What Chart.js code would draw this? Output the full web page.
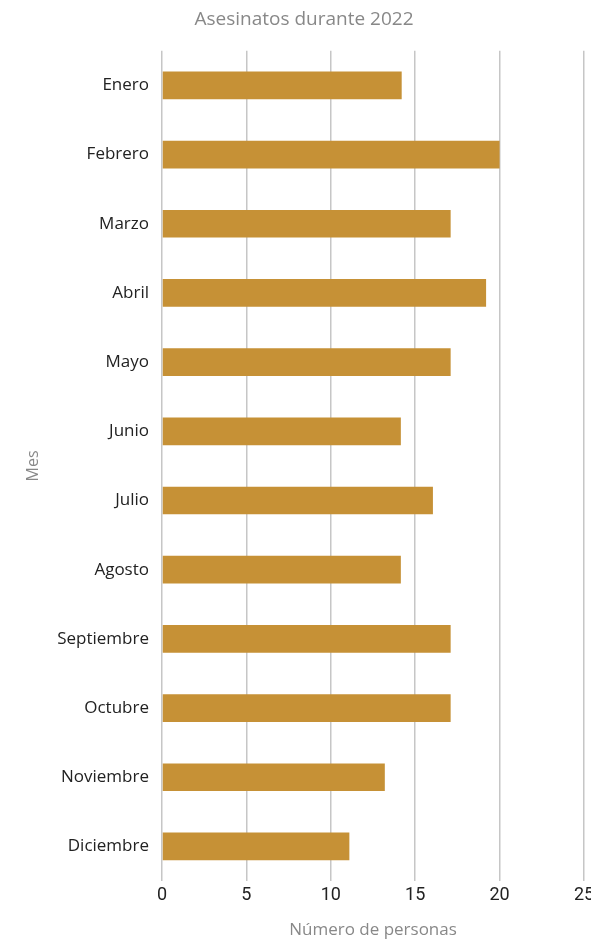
<!DOCTYPE html>
<html>
<head>
<meta charset="utf-8">
<script src="https://cdn.jsdelivr.net/npm/chart.js@4.4.1/dist/chart.umd.min.js"></script>
<style>
  html, body { margin: 0; padding: 0; background: #fff; overflow: hidden; }
  #wrap { position: relative; width: 616px; height: 941px; }
</style>
</head>
<body>
<div id="wrap"><canvas id="grafica"></canvas></div>
<script>
// datos
var meses = ["Enero", "Febrero", "Marzo", "Abril", "Mayo", "Junio", "Julio",
  "Agosto", "Septiembre", "Octubre", "Noviembre", "Diciembre"];
var asesinatos = [14.2, 20, 17.1, 19.2, 17.1, 14.15, 16.05, 14.15, 17.1, 17.1, 13.2, 11.1];
var ticksX = [0, 5, 10, 15, 20, 25];

var textoFuente = "'Open Sans', 'Noto Sans', sans-serif";
var numFuente = "'Roboto', sans-serif";

var ctx = document.getElementById("grafica");

new Chart(ctx, {
	type: 'bar',
	data: {
		labels: meses,
		datasets: [{
			label: "Asesinatos",
			data: asesinatos,
			backgroundColor: "#c69136",
			borderWidth: 0,
			barPercentage: 0.4,
			categoryPercentage: 1
		}]
	},
	options: {
		indexAxis: 'y',
		responsive: true,
		maintainAspectRatio: false,
		animation: false,
		layout: { padding: { left: 24, right: 32, top: 0, bottom: 1 } },
		plugins: {
			legend: { display: false },
			tooltip: { enabled: false },
			title: {
				display: true,
				text: "Asesinatos durante 2022",
				color: "#888",
				font: { family: textoFuente, size: 19, weight: 'normal' },
				padding: { top: 8, bottom: 20 }
			}
		},
		scales: {
			x: {
				min: 0,
				max: 25,
				afterBuildTicks: function(scale) {
					scale.ticks = ticksX.map(function(v){ return { value: v }; });
				},
				grid: { color: "#c6c6c6", lineWidth: 1.5, drawTicks: false },
				border: { display: false },
				ticks: { color: "#222", padding: 4, font: { family: numFuente, size: 18 } },
				title: {
					display: true,
					text: "Número de personas",
					color: "#888",
					font: { family: textoFuente, size: 17 },
					padding: { top: 9, bottom: 0 }
				}
			},
			y: {
				grid: { display: false },
				border: { display: false },
				ticks: { color: "#222", padding: 5, font: { family: textoFuente, size: 17 } },
				title: {
					display: true,
					text: "Mes",
					color: "#888",
					font: { family: textoFuente, size: 16 },
					padding: { top: 0, bottom: 9 }
				}
			}
		}
	}
});
</script>
</body>
</html>
